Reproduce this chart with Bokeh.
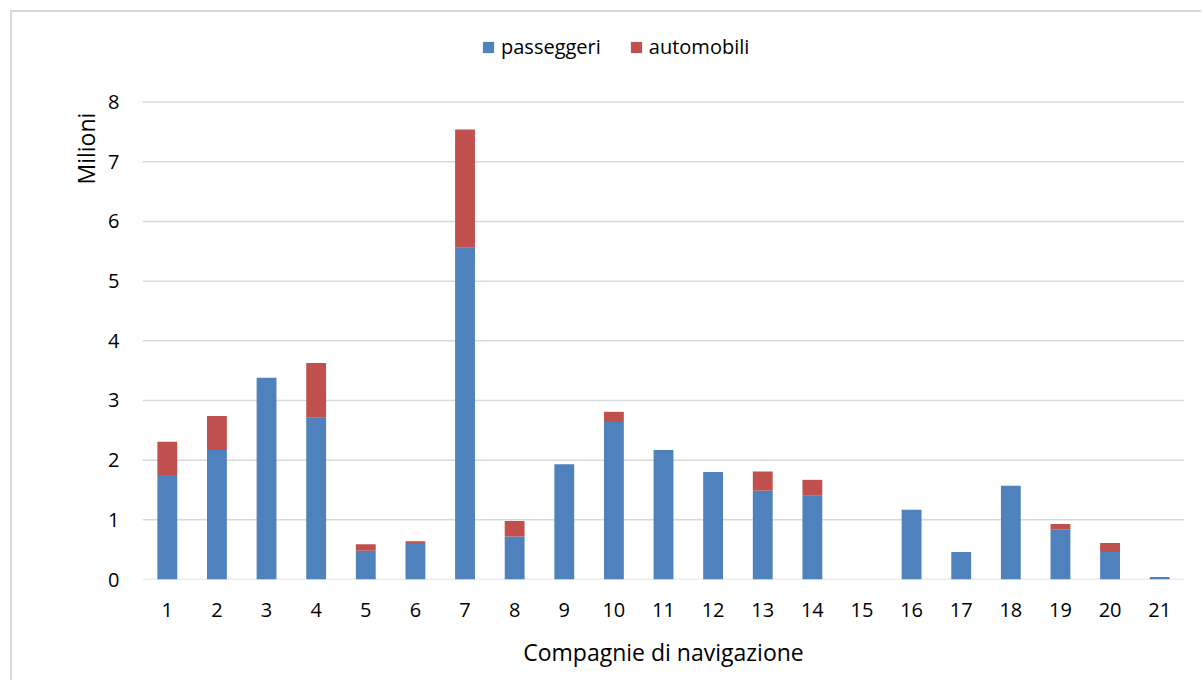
from bokeh.embed import file_html
from bokeh.models import (ColumnDataSource, FixedTicker, Legend, LegendItem,
                          Range1d, Title)
from bokeh.plotting import figure
from bokeh.resources import INLINE

# Traffico per compagnia di navigazione (milioni)
compagnie = list(range(1, 22))
passeggeri = [1.75, 2.17, 3.38, 2.71, 0.48, 0.61, 5.56, 0.72, 1.93, 2.64, 2.17,
              1.80, 1.49, 1.41, 0.00, 1.17, 0.46, 1.57, 0.84, 0.46, 0.04]
automobili = [0.56, 0.57, 0.00, 0.92, 0.11, 0.03, 1.98, 0.26, 0.00, 0.17, 0.00,
              0.00, 0.32, 0.26, 0.00, 0.00, 0.00, 0.00, 0.09, 0.15, 0.00]
serie = ["passeggeri", "automobili"]
colori = ["#4F81BD", "#C0504D"]
y_ticks = list(range(0, 9))

FONT = "Open Sans"
GRID = "#D9D9D9"
TEXT = "#000000"

x_start, x_end = compagnie[0] - 0.5, compagnie[-1] + 0.5
# spazio libero sopra l'asse per ospitare la legenda dentro l'area di disegno
y_top = 9.2

source = ColumnDataSource(dict(compagnie=compagnie, passeggeri=passeggeri,
                               automobili=automobili))

p = figure(
    x_range=Range1d(x_start, x_end),
    y_range=Range1d(y_ticks[0], y_top),
    width=1191, height=670,
    min_border_left=130, min_border_right=19,
    min_border_top=18, min_border_bottom=103,
    output_backend="svg", toolbar_location=None,
)
p.styles = {
    "margin-left": "10px", "margin-top": "10px",
    "border-top": "2px solid #D9D9D9", "border-left": "2px solid #D9D9D9",
}
p.outline_line_color = None
p.background_fill_color = "white"
p.border_fill_color = "white"

# linee orizzontali della griglia, limitate all'area del grafico
p.xgrid.grid_line_color = None
p.ygrid.grid_line_color = None
p.segment(x0=[x_start] * len(y_ticks), x1=[x_end] * len(y_ticks),
          y0=y_ticks, y1=y_ticks, line_color=GRID, line_width=1.5)

bars = p.vbar_stack(serie, x="compagnie", width=0.4, color=colori,
                    line_color=None, source=source)

# assi
p.yaxis.ticker = FixedTicker(ticks=y_ticks)
p.yaxis.axis_line_color = None
p.yaxis.major_tick_line_color = None
p.yaxis.minor_tick_line_color = None
p.yaxis.major_tick_out = 0
p.yaxis.major_label_standoff = 23
p.xaxis.ticker = FixedTicker(ticks=compagnie)
p.xaxis.axis_line_color = None
p.xaxis.major_tick_line_color = None
p.xaxis.minor_tick_line_color = None
p.xaxis.major_tick_out = 0
p.xaxis.major_label_standoff = 23
for ax in (p.xaxis, p.yaxis):
    ax.major_label_text_font = FONT
    ax.major_label_text_font_size = "20px"
    ax.major_label_text_color = TEXT

p.xaxis.axis_label = "Compagnie di navigazione"
p.xaxis.axis_label_text_font = FONT
p.xaxis.axis_label_text_font_size = "23px"
p.xaxis.axis_label_text_font_style = "normal"
p.xaxis.axis_label_text_color = TEXT
p.xaxis.axis_label_standoff = 16

# titolo dell'asse verticale, allineato in alto vicino al valore massimo
p.add_layout(Title(
    text="Milioni", align="left", offset=395, text_font=FONT,
    text_font_size="23px", text_font_style="normal", text_color=TEXT,
    standoff=7,
), "left")

legend = Legend(
    items=[LegendItem(label=s, renderers=[r]) for s, r in zip(serie, bars)],
    location=(339, 519), orientation="horizontal",
    glyph_width=14, glyph_height=14, label_standoff=6, spacing=28,
    padding=0, margin=0, border_line_color=None, background_fill_alpha=0,
    label_text_font=FONT, label_text_font_size="20px", label_text_color=TEXT,
)
p.add_layout(legend)

open("out.html", "w").write(file_html(p, INLINE))
